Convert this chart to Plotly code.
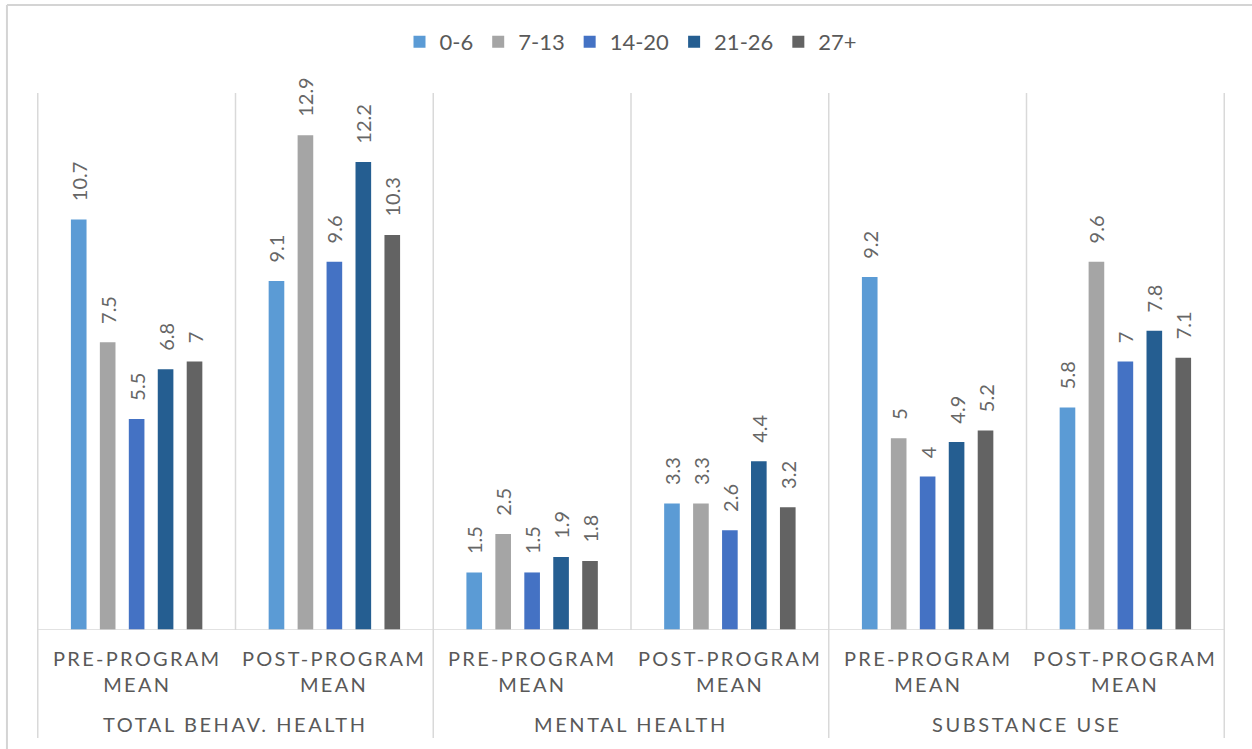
import plotly.graph_objects as go

# Outcome groups and the two measurement points inside each group
groups = ["TOTAL BEHAV. HEALTH", "MENTAL HEALTH", "SUBSTANCE USE"]
periods = ["PRE-PROGRAM MEAN", "POST-PROGRAM MEAN"]

# Age bands (series) and their means, ordered group by group, pre then post
series_names = ["0-6", "7-13", "14-20", "21-26", "27+"]
vals_0_6 = [10.7, 9.1, 1.5, 3.3, 9.2, 5.8]
vals_7_13 = [7.5, 12.9, 2.5, 3.3, 5, 9.6]
vals_14_20 = [5.5, 9.6, 1.5, 2.6, 4, 7]
vals_21_26 = [6.8, 12.2, 1.9, 4.4, 4.9, 7.8]
vals_27p = [7, 10.3, 1.8, 3.2, 5.2, 7.1]

series_values = [vals_0_6, vals_7_13, vals_14_20, vals_21_26, vals_27p]
colors = ["#5B9BD5", "#A5A5A5", "#4472C4", "#255E91", "#636363"]

FONT = "Lato"
TXT = "#595959"
LINE = "#D9D9D9"

# one category per (group, period) pair
cats = [f"{g} | {p}" for g in groups for p in periods]

fig = go.Figure()
for name, vals, col in zip(series_names, series_values, colors):
    fig.add_trace(go.Bar(
        x=cats, y=vals, name=name,
        marker=dict(color=col, line=dict(width=0)),
        text=[f"{v:g}" for v in vals],
        texttemplate="\u00a0\u00a0\u00a0%{text}",
        textposition="outside",
        textangle=-90,
        constraintext="none",
        cliponaxis=False,
        textfont=dict(family=FONT, size=20, color="#666666"),
        hoverinfo="skip",
    ))

shapes = []
# baseline of the value axis
shapes.append(dict(type="line", xref="paper", yref="y", x0=0, x1=1, y0=0, y1=0,
                   line=dict(color=LINE, width=1.5)))
# dividers between periods (plot area only) and between groups (down through labels)
n = len(cats)
for i in range(n + 1):
    pos = i - 0.5
    if i % 2 == 0:
        y0 = -0.201
    else:
        y0 = 0
    shapes.append(dict(type="line", xref="x", yref="paper", x0=pos, x1=pos, y0=y0, y1=1,
                       line=dict(color=LINE, width=1.5)))
# chart frame (top and left edges)
shapes.append(dict(type="line", xref="paper", yref="paper", x0=-0.0253, x1=1.1, y0=1.164, y1=1.164,
                   line=dict(color="#D4D4D4", width=2)))
shapes.append(dict(type="line", xref="paper", yref="paper", x0=-0.0253, x1=-0.0253, y0=1.164, y1=-0.3,
                   line=dict(color="#D4D4D4", width=2)))


def spaced(s, ls):
    return "<br>".join(f'<span style="letter-spacing:{ls}px">{line}</span>' for line in s.split("\n"))


annotations = []
for gi, g in enumerate(groups):
    for pi, p in enumerate(periods):
        c = cats[gi * 2 + pi]
        annotations.append(dict(
            x=c, xref="x", y=-0.0765, yref="paper", yanchor="middle", xanchor="center",
            text=spaced(p.replace(" MEAN", "\nMEAN"), 2.3), showarrow=False,
            font=dict(family=FONT, size=20, color=TXT),
        ))
    annotations.append(dict(
        x=gi * 2 + 0.5, xref="x", y=-0.175, yref="paper", yanchor="middle", xanchor="center",
        text=spaced(g, 2.6), showarrow=False,
        font=dict(family=FONT, size=20, color=TXT),
    ))

fig.update_layout(
    width=1252, height=749,
    margin=dict(l=37, r=27, t=93, b=119),
    paper_bgcolor="white", plot_bgcolor="white",
    barmode="group", bargap=0.268, bargroupgap=0.46,
    showlegend=True,
    legend=dict(orientation="h", x=0.5, xanchor="center", y=1.095, yanchor="middle",
                font=dict(family=FONT, size=22, color=TXT), itemwidth=30),
    xaxis=dict(type="category", categoryorder="array", categoryarray=cats,
               showticklabels=False, showgrid=False, zeroline=False, showline=False, ticks=""),
    yaxis=dict(range=[0, 14], visible=False),
    shapes=shapes,
    annotations=annotations,
)

fig.write_html("out.html")
